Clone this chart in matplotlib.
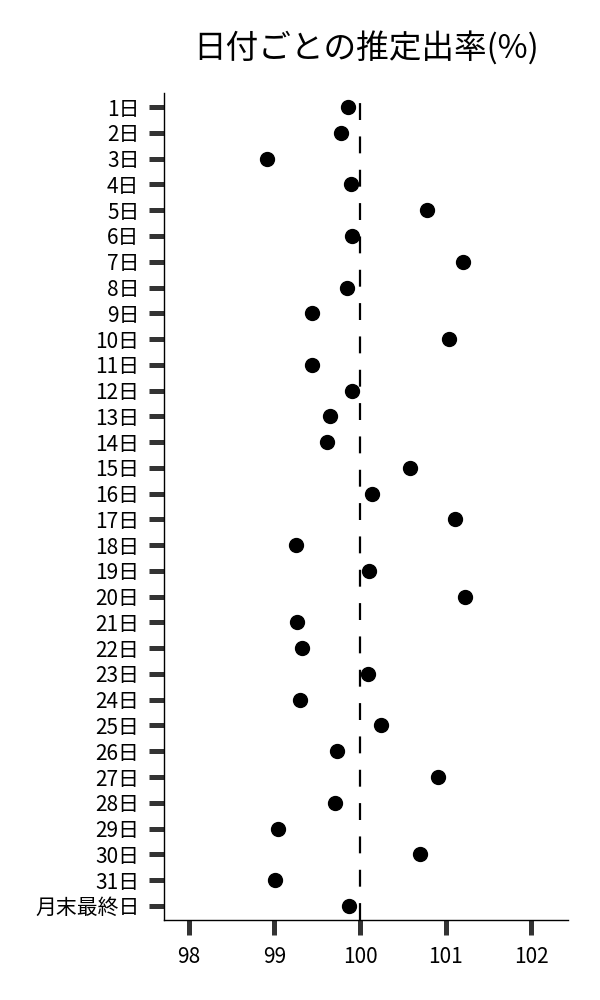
import numpy as np
import matplotlib
matplotlib.use('Agg')
import matplotlib.pyplot as plt

plt.rcParams['font.family'] = ['Noto Sans CJK JP', 'DejaVu Sans']

# data
days = [f'{i}日' for i in range(1, 32)] + ['月末最終日']
rates = [99.86, 99.78, 98.91, 99.89, 100.78, 99.91, 101.20, 99.85, 99.44, 101.04,
         99.44, 99.91, 99.65, 99.61, 100.58, 100.14, 101.11, 99.25, 100.11, 101.22,
         99.26, 99.32, 100.09, 99.30, 100.25, 99.73, 100.91, 99.71, 99.04, 100.70,
         99.01, 99.87]
xticks = [98, 99, 100, 101, 102]

fig = plt.figure(figsize=(6, 10), dpi=100)
ax = fig.add_axes([0.273, 0.08, 0.674, 0.827])

ypos = np.arange(len(days))
ax.scatter(rates, ypos, s=100, color='black', zorder=3)
ax.axvline(100, color='black', lw=1.6, ls=(0, (7.6, 7.4)), zorder=2)

ax.set_yticks(ypos)
ax.set_yticklabels(days)
ax.set_ylim(len(days) - 0.45, -0.55)
ax.set_xticks(xticks)
ax.set_xlim(97.71, 102.43)

for s in ['top', 'right']:
    ax.spines[s].set_visible(False)
for s in ['left', 'bottom']:
    ax.spines[s].set_linewidth(1.0)

ax.tick_params(axis='both', length=10.5, width=3.6, color='#333333', labelsize=15)
ax.tick_params(axis='y', pad=7)
ax.tick_params(axis='x', pad=8)

ax.set_title('日付ごとの推定出率(%)', fontsize=23.5, pad=25)

fig.savefig('out.png', dpi=100)
